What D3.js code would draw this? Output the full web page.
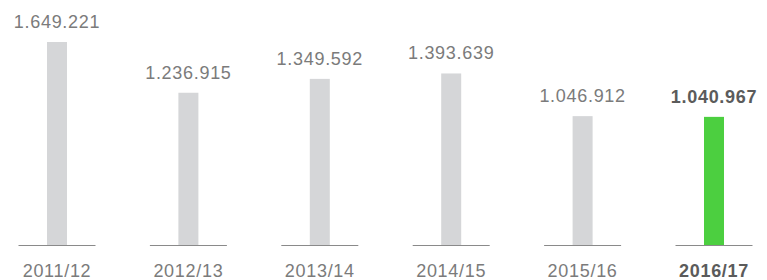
<!DOCTYPE html>
<html>
<head>
<meta charset="utf-8">
<script src="https://cdn.jsdelivr.net/npm/d3@7"></script>
<style>
  body { margin: 0; background: #fff; }
  svg text { font-family: "Liberation Sans", Arial, sans-serif; font-size: 18px; letter-spacing: 0.7px; }
</style>
</head>
<body>
<svg id="chart" width="767" height="280"></svg>
<script>
// data
var seasons = ["2011/12", "2012/13", "2013/14", "2014/15", "2015/16", "2016/17"];
var values = [1649221, 1236915, 1349592, 1393639, 1046912, 1040967];
var valueLabels = ["1.649.221", "1.236.915", "1.349.592", "1.393.639", "1.046.912", "1.040.967"];
var highlight = "2016/17";

var svg = d3.select("#chart");
var baseY = 245;

var x = d3.scalePoint().domain(seasons).range([57, 714]);
var y = d3.scaleLinear().domain([0, 1649221]).range([baseY, 42]);

var g = svg.append("g");

// baseline segment under each bar
g.selectAll(".base")
  .data(seasons)
  .enter().append("line")
    .attr("class", "base")
    .attr("x1", function(d) { return x(d) - 38.5; })
    .attr("x2", function(d) { return x(d) + 38.5; })
    .attr("y1", baseY + 0.5)
    .attr("y2", baseY + 0.5)
    .attr("stroke", "#8a8a8a")
    .attr("stroke-width", 1);

g.selectAll(".bar")
  .data(seasons)
  .enter().append("rect")
    .attr("class", "bar")
    .attr("x", function(d) { return x(d) - 10; })
    .attr("width", 20)
    .attr("y", function(d, i) { return y(values[i]); })
    .attr("height", function(d, i) { return baseY - y(values[i]); })
    .attr("fill", function(d) { return d == highlight ? "#4ccf40" : "#d5d6d8"; });

g.selectAll(".val")
  .data(seasons)
  .enter().append("text")
    .attr("class", "val")
    .attr("x", function(d) { return x(d); })
    .attr("y", function(d, i) { return y(values[i]) - 14; })
    .attr("text-anchor", "middle")
    .attr("fill", function(d) { return d == highlight ? "#5b5b5b" : "#7b7b7b"; })
    .attr("font-weight", function(d) { return d == highlight ? "bold" : "normal"; })
    .text(function(d, i) { return valueLabels[i]; });

g.selectAll(".cat")
  .data(seasons)
  .enter().append("text")
    .attr("class", "cat")
    .attr("x", function(d) { return x(d); })
    .attr("y", 277)
    .attr("text-anchor", "middle")
    .attr("fill", function(d) { return d == highlight ? "#5b5b5b" : "#7b7b7b"; })
    .attr("font-weight", function(d) { return d == highlight ? "bold" : "normal"; })
    .text(function(d) { return d; });
</script>
</body>
</html>
